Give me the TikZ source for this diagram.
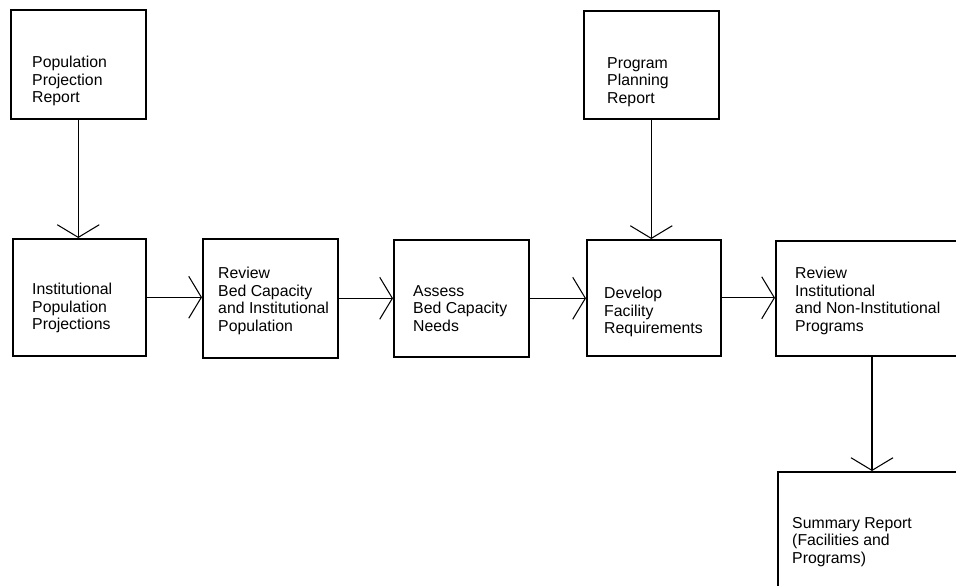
\documentclass[tikz,border=0pt]{standalone}
\usepackage{fontspec}
\setmainfont{Liberation Sans}
\usetikzlibrary{positioning,arrows.meta,calc}

\begin{document}
\begin{tikzpicture}[x=0.03cm, y=-0.03cm,
				boxnode/.style={rectangle, draw=black, line width=1.3pt, inner sep=0pt, anchor=north west},
				textnode/.style={anchor=north west, inner sep=0pt, align=left, font=\fontsize{13.5}{15}\selectfont},
				flow/.style={line width=0.9pt, -{Straight Barb[length=3.8mm, width=12.6mm]}},
				]
				\useasboundingbox (0,0) rectangle (956,585);

				%Nodes
				\node[boxnode, minimum width=4.05cm, minimum height=3.27cm]	(pop)		at (10,9)	{};
				\node[boxnode, minimum width=4.05cm, minimum height=3.24cm]	(plan)		at (583,10)	{};
				\node[boxnode, minimum width=3.99cm, minimum height=3.51cm]	(inst)		at (12,238)	{};
				\node[boxnode, minimum width=4.05cm, minimum height=3.57cm]	(revbed)	at (202,238)	{};
				\node[boxnode, minimum width=4.05cm, minimum height=3.51cm]	(assess)	at (393,239)	{};
				\node[boxnode, minimum width=4.02cm, minimum height=3.48cm]	(develop)	at (586,239)	{};
				\node[boxnode, minimum width=6.9cm, minimum height=3.45cm]	(revinst)	at (775,240)	{};
				\node[boxnode, minimum width=6.9cm, minimum height=4.5cm]	(summary)	at (777,471)	{};

				%Texts
				\node[textnode]	(poptext)	at (32,56)	{Population\\Projection\\Report};
				\node[textnode]	(plantext)	at (607,57)	{Program\\Planning\\Report};
				\node[textnode]	(insttext)	at (32,283)	{Institutional\\Population\\Projections};
				\node[textnode]	(revbedtext)	at (218,267)	{Review\\Bed Capacity\\and Institutional\\Population};
				\node[textnode]	(assesstext)	at (413,285)	{Assess\\Bed Capacity\\Needs};
				\node[textnode]	(developtext)	at (604,287)	{Develop\\Facility\\Requirements};
				\node[textnode]	(revinsttext)	at (795,267)	{Review\\Institutional\\and Non-Institutional\\Programs};
				\node[textnode]	(summarytext)	at (792,517)	{Summary Report\\(Facilities and\\Programs)};

				%Lines
				\draw[flow]	(pop.south) -- (pop.south |- inst.north);
				\draw[flow]	(plan.south) -- (plan.south |- develop.north);
				\draw[flow]	(inst.east) -- (inst.east -| revbed.west);
				\draw[flow]	(revbed.east) -- (revbed.east -| assess.west);
				\draw[flow]	(assess.east) -- (assess.east -| develop.west);
				\draw[flow]	(develop.east) -- (develop.east -| revinst.west);
				\draw[flow]	($(revinst.south west)+(97,0)$) -- ($(summary.north west)+(95,0)$);
\end{tikzpicture}
\end{document}
